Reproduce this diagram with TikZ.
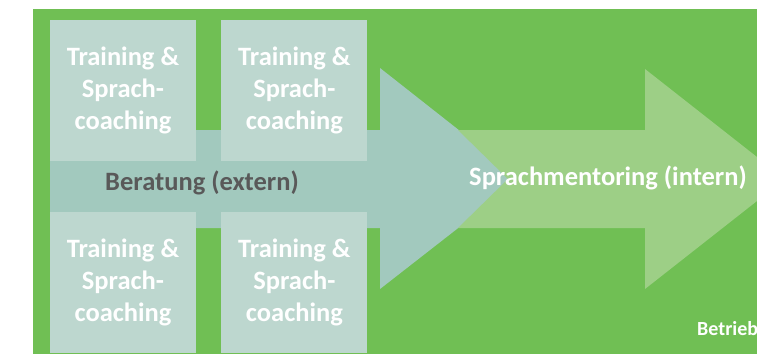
\documentclass[tikz,border=0pt]{standalone}
\usepackage{fontspec}
\setmainfont{Carlito}
\usetikzlibrary{positioning}
\definecolor{bggreen}{HTML}{70BF54}
\definecolor{extblue}{HTML}{A2C9BE}
\definecolor{intgreen}{HTML}{9DCF86}
\definecolor{boxfill}{HTML}{BDD7CF}
\definecolor{darktext}{HTML}{595959}
\begin{document}
\begin{tikzpicture}[x=1pt,y=-1pt,tb/.style={fill=boxfill,minimum
width=146pt,minimum height=141pt,inner sep=0pt,align=center,text=white,
font=\fontsize{26.5}{32}\selectfont\bfseries},lbl/.style={inner sep=0pt,
font=\fontsize{26.5}{30}\selectfont\bfseries}]
\useasboundingbox (0,0) rectangle (757,354);
\clip (0,0) rectangle (757,354);
\fill[bggreen] (33,9) rectangle (757,354);
% Beratung arrow
\fill[extblue] (50,130) -- (380,130) -- (380,68) -- (521,179)
  -- (380,289) -- (380,228) -- (50,228) -- cycle;
% Sprachmentoring arrow
\fill[intgreen] (458,130) -- (645,130) -- (645,69) -- (785,179)
  -- (645,289) -- (645,228) -- (458,228) -- (508,179) -- cycle;
\node[tb] (tr1) at (123,90.5) {Training \&\\Sprach-\\coaching};
\node[tb,right=25pt of tr1] (tr2) {Training \&\\Sprach-\\coaching};
\node[tb,below=51pt of tr1] (tr3) {Training \&\\Sprach-\\coaching};
\node[tb,right=25pt of tr3] (tr4) {Training \&\\Sprach-\\coaching};
\node[lbl,text=darktext] (ext) at (202,183) {Beratung (extern)};
\node[lbl,text=white] (int) at (608,178) {Sprachmentoring (intern)};
\node[lbl,text=white,anchor=west,font=\fontsize{20}{24}\selectfont\bfseries]
  (bet) at (697,329) {Betrieb};
\end{tikzpicture}
\end{document}
